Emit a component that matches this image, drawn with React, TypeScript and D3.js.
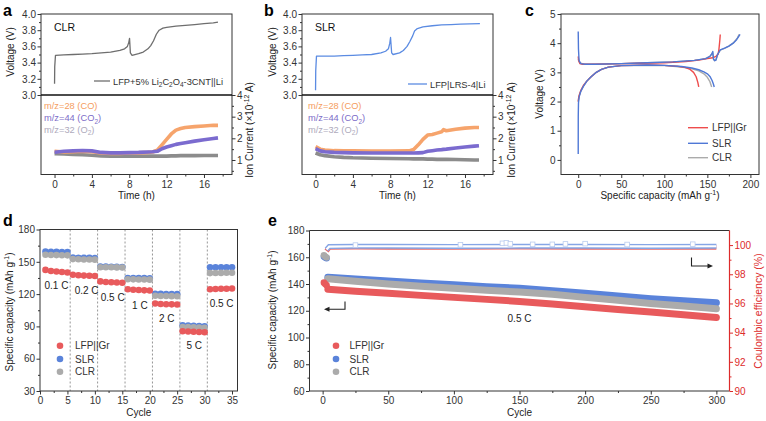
import React, { useEffect, useRef } from 'react';
import * as d3 from 'd3';

const FONT = 'Liberation Sans, Arial, Helvetica, sans-serif';

// ---------- Panel a (CLR) ----------
const aVoltTime = [0, 0.02, 0.1, 1, 2, 3, 4, 5, 6, 7, 7.5, 7.8, 7.95, 8.03, 8.12, 8.3, 9, 9.5, 10, 10.3, 10.6, 10.9, 11.2, 11.6, 12, 13, 14, 15, 16, 17, 17.5];
const aVolt = [3.14, 3.35, 3.49, 3.495, 3.5, 3.505, 3.51, 3.52, 3.53, 3.55, 3.57, 3.6, 3.65, 3.7, 3.52, 3.49, 3.51, 3.53, 3.57, 3.61, 3.67, 3.75, 3.8, 3.825, 3.835, 3.85, 3.86, 3.87, 3.88, 3.89, 3.9];
const aIonTime = [0, 1, 2, 3, 4, 5, 6, 7, 8, 9, 10, 10.5, 11, 11.5, 12, 12.5, 13, 13.5, 14, 15, 16, 17, 17.5];
const aCO = [1.4, 1.37, 1.38, 1.4, 1.38, 1.32, 1.3, 1.3, 1.32, 1.33, 1.35, 1.37, 1.45, 1.7, 1.95, 2.2, 2.38, 2.45, 2.5, 2.54, 2.57, 2.6, 2.6];
const aCO2 = [1.36, 1.4, 1.42, 1.44, 1.42, 1.35, 1.33, 1.33, 1.34, 1.35, 1.37, 1.38, 1.4, 1.52, 1.6, 1.66, 1.72, 1.76, 1.8, 1.87, 1.93, 1.99, 2.02];
const aO2 = [1.29, 1.28, 1.26, 1.24, 1.22, 1.19, 1.18, 1.18, 1.18, 1.18, 1.18, 1.18, 1.18, 1.18, 1.18, 1.19, 1.19, 1.2, 1.2, 1.2, 1.21, 1.21, 1.21];

// ---------- Panel b (SLR) ----------
const bVoltTime = [0, 0.02, 0.1, 1, 2, 3, 4, 5, 6, 7, 7.5, 7.8, 7.95, 8.03, 8.15, 8.3, 9, 9.4, 9.8, 10.1, 10.4, 10.6, 10.9, 11.5, 12.5, 13.5, 14.5, 15.5, 16.5, 17.6];
const bVolt = [3.06, 3.3, 3.48, 3.48, 3.48, 3.485, 3.49, 3.495, 3.5, 3.52, 3.54, 3.57, 3.64, 3.71, 3.52, 3.5, 3.52, 3.55, 3.6, 3.66, 3.73, 3.79, 3.82, 3.84, 3.855, 3.865, 3.87, 3.875, 3.878, 3.88];
const bIonTime = [0, 0.5, 1, 2, 3, 4, 6, 8, 10, 10.5, 11, 11.5, 12, 12.5, 13, 13.5, 13.7, 14, 15, 16, 17, 17.5];
const bCO = [1.62, 1.5, 1.46, 1.43, 1.42, 1.42, 1.41, 1.41, 1.42, 1.48, 1.7, 1.95, 2.15, 2.18, 2.24, 2.3, 2.4, 2.35, 2.42, 2.47, 2.5, 2.5];
const bCO2 = [1.52, 1.42, 1.38, 1.35, 1.34, 1.33, 1.32, 1.32, 1.32, 1.32, 1.33, 1.34, 1.4, 1.43, 1.46, 1.48, 1.49, 1.5, 1.55, 1.6, 1.64, 1.66];
const bO2 = [1.32, 1.24, 1.2, 1.15, 1.12, 1.1, 1.08, 1.07, 1.06, 1.05, 1.05, 1.05, 1.04, 1.04, 1.03, 1.03, 1.03, 1.03, 1.02, 1.01, 1.0, 1.0];

// ---------- Panel c ----------
const cRedChgCap = [0, 0.5, 2, 5, 15, 40, 70, 100, 125, 140, 150, 156, 160, 162.5, 163.5, 164.5, 165];
const cRedChgV = [3.55, 3.4, 3.3, 3.28, 3.28, 3.29, 3.31, 3.33, 3.37, 3.42, 3.47, 3.5, 3.55, 3.62, 3.8, 4.1, 4.3];
const cRedDisCap = [0, 0.3, 1, 3, 6, 10, 15, 20, 27, 35, 50, 80, 100, 115, 124, 130, 134, 137, 139, 140];
const cRedDisV = [2.0, 2.08, 2.2, 2.38, 2.55, 2.7, 2.85, 2.98, 3.1, 3.18, 3.23, 3.25, 3.24, 3.21, 3.17, 3.1, 3.0, 2.85, 2.65, 2.5];
const cBlueChgCap = [0, 0.3, 1, 3, 8, 20, 50, 80, 110, 135, 148, 153, 155.5, 156.3, 157.2, 158.5, 160, 162, 165, 170, 175, 180, 184, 188];
const cBlueChgV = [4.4, 3.8, 3.4, 3.3, 3.28, 3.28, 3.3, 3.33, 3.36, 3.41, 3.47, 3.55, 3.65, 3.72, 3.45, 3.4, 3.42, 3.62, 3.77, 3.83, 3.9, 4.0, 4.12, 4.3];
const cBlueDisCap = [0, 0.05, 0.3, 1, 3, 6, 10, 15, 20, 27, 35, 50, 80, 100, 120, 132, 140, 146, 150, 153, 155.5, 157, 158];
const cBlueDisV = [0.2, 1.5, 1.95, 2.15, 2.35, 2.52, 2.7, 2.85, 2.98, 3.1, 3.18, 3.23, 3.25, 3.24, 3.2, 3.15, 3.09, 3.02, 2.95, 2.86, 2.72, 2.6, 2.5];
const cGreyChgCap = [0, 2, 6, 20, 50, 80, 110, 135, 148, 153, 155, 156, 157.2, 158.5, 160, 162, 165, 170, 175, 180, 185, 187];
const cGreyChgV = [3.45, 3.32, 3.29, 3.28, 3.3, 3.33, 3.36, 3.41, 3.47, 3.55, 3.62, 3.68, 3.45, 3.4, 3.43, 3.62, 3.76, 3.82, 3.9, 4.0, 4.18, 4.3];
const cGreyDisCap = [0, 0.3, 1, 3, 6, 10, 15, 20, 27, 35, 50, 80, 100, 120, 132, 140, 146, 150, 153, 155];
const cGreyDisV = [2.0, 2.05, 2.18, 2.36, 2.53, 2.7, 2.85, 2.98, 3.1, 3.18, 3.23, 3.24, 3.23, 3.18, 3.12, 3.05, 2.95, 2.83, 2.68, 2.5];

// ---------- Panel d (rate) ----------
const dCycles = d3.range(1, 36);
const dLFP = [142.5, 141.5, 141, 140.5, 140, 138, 137.5, 137.2, 137, 136.8, 131.8, 131.3, 131, 130.8, 130.5, 124.5, 124, 123.8, 123.5, 123.3, 111.2, 110.8, 110.6, 110.5, 110.3, 85.5, 85.2, 85, 84.8, 84.5, 124.5, 124.7, 124.9, 125, 125.2];
const dSLR = [159.5, 159.3, 159.2, 159, 159, 154, 153.8, 153.7, 153.6, 153.5, 145.5, 145.5, 145.4, 145.3, 145.2, 135, 135, 134.9, 134.8, 134.7, 120.3, 120.2, 120.1, 120, 120, 91, 90.8, 90.6, 90.4, 90.2, 145, 145, 145, 145, 145];
const dCLR = [156.5, 156.3, 156.2, 156.1, 156, 152.5, 152.3, 152.2, 152.1, 152, 145, 145, 144.9, 144.8, 144.7, 133.8, 133.7, 133.6, 133.5, 133.4, 118.5, 118.3, 118.2, 118.1, 118, 89.5, 89.3, 89.1, 89, 88.8, 139.5, 139.6, 139.7, 139.8, 139.8];
const dRates = ['0.1 C', '0.2 C', '0.5 C', '1 C', '2 C', '5 C', '0.5 C'];
const dRateLabelCycle = [3.0, 8.5, 13.25, 18.2, 23.1, 28.1, 33.1];
const dRateLabelCap = [128.4, 123, 117, 109.6, 97.8, 72.4, 111.4];
const dSeparators = [5.5, 10.5, 15.5, 20.5, 25.5, 30.5];

// ---------- Panel e (long cycling) ----------
const eFirstCycles = [1, 2, 3];
const eFirstLFP = [141, 140, 139];
const eFirstSLR = [160.5, 159.8, 159.2];
const eFirstCLR = [161.5, 160.5, 159.8];
const eCycles = [4, 25, 50, 75, 100, 125, 150, 175, 200, 225, 250, 275, 300];
const eLFP = [136, 134.5, 133, 131.5, 130, 128.5, 127, 125, 123, 121, 119, 117, 115];
const eSLR = [145, 143.8, 142.3, 140.8, 139.5, 138, 136.8, 135, 133, 131, 129, 127.5, 126];
const eCLR = [144, 142, 140, 138.3, 136.8, 135.3, 134, 132.3, 130, 127.8, 125.5, 123.5, 121.5];
const eCECycles = [3, 5, 25, 50, 100, 150, 200, 250, 300];
const eCE_SLR = [99.7, 99.9, 99.92, 99.92, 99.91, 99.92, 99.92, 99.91, 99.92];
const eCE_LFP = [99.6, 99.85, 99.87, 99.86, 99.86, 99.87, 99.86, 99.86, 99.86];
const eCEOutCycles = [25, 105, 137, 140, 143, 160, 175, 185, 200, 232, 282];
const eCEOutVals = [100.0, 100.02, 100.12, 100.15, 100.08, 100.05, 100.05, 100.08, 100.1, 100.04, 100.06];

const C_RED = '#e85a5c';
const C_BLUE = '#5a83da';
const C_GREY = '#ababab';

function richText(g: any, x: number, y: number, parts: any[], size: number, fill: string, anchor = 'start', rotate = false) {
  const t = g.append('text')
    .attr('font-family', FONT).attr('font-size', size).attr('fill', fill).attr('text-anchor', anchor);
  if (rotate) t.attr('transform', `translate(${x},${y}) rotate(-90)`);
  else t.attr('x', x).attr('y', y);
  let cur = 0;
  parts.forEach((p: any) => {
    const want = p.sub ? size * 0.28 : p.sup ? -size * 0.4 : 0;
    const ts = t.append('tspan').text(p.t).attr('dy', want - cur);
    if (p.sub || p.sup) ts.attr('font-size', size * 0.7);
    cur = want;
  });
  return t;
}

function addAxis(g: any, axisFn: any, scale: any, majors: number[], minors: number[], fmt: any, tx: number, ty: number, color = '#333', pad = 2.5) {
  const a = g.append('g').attr('transform', `translate(${tx},${ty})`);
  a.call(axisFn(scale).tickValues(majors).tickSize(3.5).tickSizeOuter(0).tickPadding(pad).tickFormat(fmt));
  a.select('.domain').remove();
  a.selectAll('line').attr('stroke', color);
  a.selectAll('text').attr('fill', color).attr('font-family', FONT).attr('font-size', 10);
  if (minors.length) {
    const m = g.append('g').attr('transform', `translate(${tx},${ty})`);
    m.call(axisFn(scale).tickValues(minors).tickSize(2).tickSizeOuter(0).tickFormat(() => ''));
    m.select('.domain').remove();
    m.selectAll('line').attr('stroke', color);
  }
}

function frame(g: any, x0: number, y0: number, x1: number, y1: number) {
  g.append('rect').attr('x', x0).attr('y', y0).attr('width', x1 - x0).attr('height', y1 - y0)
    .attr('fill', 'none').attr('stroke', '#333').attr('stroke-width', 1);
}

function plain(g: any, x: number, y: number, s: string, size = 10, fill = '#222', anchor = 'start', weight = 'normal') {
  return g.append('text').attr('x', x).attr('y', y).attr('font-family', FONT).attr('font-size', size)
    .attr('fill', fill).attr('text-anchor', anchor).attr('font-weight', weight).text(s);
}

function drawGas(svg: any, x0: number, x1: number, letter: string, letterX: number, tag: string,
  vt: number[], vv: number[], vColor: string, legendParts: any[], legLine: number[], legText: number[],
  it: number[], co: number[], co2: number[], o2: number[], gasLabelX: number, gasLabelY: number[],
  ionLabelX: number, voltTitleX: number) {
  const g = svg.append('g');
  const x = d3.scaleLinear().domain([-1.45, 19.0]).range([x0, x1]);
  const yV = d3.scaleLinear().domain([3, 4]).range([95, 14]);
  const yI = d3.scaleLinear().domain([0.33, 4]).range([174.5, 95]);

  const lineI = (vals: number[]) => d3.line<number>().x((_, i) => x(it[i])).y((d) => yI(d))(vals);
  g.append('path').attr('d', lineI(o2)).attr('fill', 'none').attr('stroke', '#8c8c8c').attr('stroke-width', 3.6).attr('stroke-linejoin', 'round');
  g.append('path').attr('d', lineI(co)).attr('fill', 'none').attr('stroke', '#f6a46c').attr('stroke-width', 3.6).attr('stroke-linejoin', 'round');
  g.append('path').attr('d', lineI(co2)).attr('fill', 'none').attr('stroke', '#7b6bcf').attr('stroke-width', 3.6).attr('stroke-linejoin', 'round');

  const lineV = d3.line<number>().x((_, i) => x(vt[i])).y((d) => yV(d));
  g.append('path').attr('d', lineV(vv)).attr('fill', 'none').attr('stroke', vColor).attr('stroke-width', 1.3).attr('stroke-linejoin', 'round');

  frame(g, x0, 14, x1, 174.5);
  g.append('line').attr('x1', x0).attr('x2', x1).attr('y1', 95).attr('y2', 95).attr('stroke', '#111').attr('stroke-width', 1.3);

  addAxis(g, d3.axisBottom, x, [0, 4, 8, 12, 16], [2, 6, 10, 14, 18], d3.format('d'), 0, 174.5);
  addAxis(g, d3.axisLeft, yV, [3.0, 3.2, 3.4, 3.6, 3.8, 4.0], [3.1, 3.3, 3.5, 3.7, 3.9], d3.format('.1f'), x0, 0, '#333', 1.5);
  addAxis(g, d3.axisRight, yI, [1, 2, 3, 4], [0.5, 1.5, 2.5, 3.5], d3.format('d'), x1, 0, '#333', 1.5);

  plain(g, (x0 + x1) / 2, 199, 'Time (h)', 10, '#222', 'middle');
  g.append('text').attr('transform', `translate(${voltTitleX},52) rotate(-90)`).attr('font-family', FONT).attr('font-size', 10)
    .attr('fill', '#222').attr('text-anchor', 'middle').text('Voltage (V)');
  richText(g, ionLabelX, 130, [{ t: 'Ion Current (×10' }, { t: '-12', sup: true }, { t: ' A)' }], 10, '#222', 'middle', true);

  plain(g, letterX, 16, letter, 16, '#000', 'start', 'bold');
  plain(g, x0 + 13, 31, tag, 10.5, '#111');

  g.append('line').attr('x1', legLine[0]).attr('x2', legLine[1]).attr('y1', legLine[2]).attr('y2', legLine[2]).attr('stroke', vColor).attr('stroke-width', 1.3);
  richText(g, legText[0], legText[1], legendParts, 9.3, '#333');

  richText(g, gasLabelX, gasLabelY[0], [{ t: 'm/z=28 (CO)' }], 9.3, '#f59d5e');
  richText(g, gasLabelX, gasLabelY[1], [{ t: 'm/z=44 (CO' }, { t: '2', sub: true }, { t: ')' }], 9.3, '#7c6cc8');
  richText(g, gasLabelX, gasLabelY[2], [{ t: 'm/z=32 (O' }, { t: '2', sub: true }, { t: ')' }], 9.3, '#aeaabc');
}

function draw(svg: any) {
  svg.append('rect').attr('width', 766).attr('height', 421).attr('fill', '#fff');

  drawGas(svg, 41, 232, 'a', 3, 'CLR', aVoltTime, aVolt, '#6e6e6e',
    [{ t: 'LFP+5% Li' }, { t: '2', sub: true }, { t: 'C' }, { t: '2', sub: true }, { t: 'O' }, { t: '4', sub: true }, { t: '-3CNT||Li' }],
    [94, 110, 81], [113, 84.5], aIonTime, aCO, aCO2, aO2, 44, [109, 121, 132.5], 253, 14);

  drawGas(svg, 302, 493, 'b', 264, 'SLR', bVoltTime, bVolt, '#5b8be2',
    [{ t: 'LFP|LRS-4|Li' }], [408, 427, 84], [430, 87.5], bIonTime, bCO, bCO2, bO2, 308, [109, 121, 132.5], 515, 276);

  // ----- c -----
  {
    const g = svg.append('g');
    const x0 = 561, x1 = 759;
    const x = d3.scaleLinear().domain([-20, 210]).range([x0, x1]);
    const y = d3.scaleLinear().domain([-0.5, 5]).range([174.5, 14]);
    const ln = (cap: number[], v: number[]) => d3.line<number>().x((d) => x(d)).y((_, i) => y(v[i]))(cap);
    const series = [
      { c: C_GREY, paths: [[cGreyChgCap, cGreyChgV], [cGreyDisCap, cGreyDisV]] },
      { c: '#ee4c4c', paths: [[cRedChgCap, cRedChgV], [cRedDisCap, cRedDisV]] },
      { c: '#4f78d6', paths: [[cBlueChgCap, cBlueChgV], [cBlueDisCap, cBlueDisV]] },
    ];
    series.forEach((s) => s.paths.forEach((p: any) => {
      g.append('path').attr('d', ln(p[0], p[1])).attr('fill', 'none').attr('stroke', s.c).attr('stroke-width', 1.4).attr('stroke-linejoin', 'round');
    }));
    frame(g, x0, 14, x1, 174.5);
    addAxis(g, d3.axisBottom, x, [0, 50, 100, 150, 200], [25, 75, 125, 175], d3.format('d'), 0, 174.5);
    addAxis(g, d3.axisLeft, y, [0, 1, 2, 3, 4, 5], [0.5, 1.5, 2.5, 3.5, 4.5], d3.format('d'), x0, 0, '#333', 2);
    plain(g, 525, 16, 'c', 16, '#000', 'start', 'bold');
    g.append('text').attr('transform', 'translate(543,94) rotate(-90)').attr('font-family', FONT).attr('font-size', 10)
      .attr('fill', '#222').attr('text-anchor', 'middle').text('Voltage (V)');
    richText(g, (x0 + x1) / 2, 199, [{ t: 'Specific capacity (mAh g' }, { t: '-1', sup: true }, { t: ')' }], 10, '#222', 'middle');
    const leg = [['LFP||Gr', '#ee4c4c', 127.7], ['SLR', '#4f78d6', 143.3], ['CLR', C_GREY, 157.7]];
    leg.forEach((l: any) => {
      g.append('line').attr('x1', 688).attr('x2', 708).attr('y1', l[2]).attr('y2', l[2]).attr('stroke', l[1]).attr('stroke-width', 1.4);
      plain(g, 712, l[2] + 3.6, l[0], 10, '#333');
    });
  }

  // ----- d -----
  {
    const g = svg.append('g');
    const x0 = 40, x1 = 237.5, y0 = 229.5, y1 = 391;
    const x = d3.scaleLinear().domain([0, 36]).range([x0, x1]);
    const y = d3.scaleLinear().domain([30, 180]).range([y1, y0]);
    dSeparators.forEach((c) => {
      g.append('line').attr('x1', x(c)).attr('x2', x(c)).attr('y1', y0).attr('y2', y1)
        .attr('stroke', '#8a8a8a').attr('stroke-width', 0.9).attr('stroke-dasharray', '2,2');
    });
    const dots = (vals: number[], col: string) => vals.forEach((v, i) => {
      g.append('circle').attr('cx', x(dCycles[i])).attr('cy', y(v)).attr('r', 3.3).attr('fill', col);
    });
    dots(dSLR, C_BLUE);
    dots(dCLR, C_GREY);
    dots(dLFP, C_RED);
    dRates.forEach((r, i) => plain(g, x(dRateLabelCycle[i]), y(dRateLabelCap[i]) + 3.6, r, 10, '#222', 'middle'));
    frame(g, x0, y0, x1, y1);
    addAxis(g, d3.axisBottom, x, [0, 5, 10, 15, 20, 25, 30, 35], [2.5, 7.5, 12.5, 17.5, 22.5, 27.5, 32.5], d3.format('d'), 0, y1);
    addAxis(g, d3.axisLeft, y, [30, 60, 90, 120, 150, 180], [45, 75, 105, 135, 165], d3.format('d'), x0, 0, '#333', 1.5);
    plain(g, 3, 226, 'd', 16, '#000', 'start', 'bold');
    plain(g, (x0 + x1) / 2, 416, 'Cycle', 10, '#222', 'middle');
    richText(g, 13, 312, [{ t: 'Specific capacity (mAh g' }, { t: '-1', sup: true }, { t: ')' }], 10, '#222', 'middle', true);
    const leg = [['LFP||Gr', C_RED, 345.7], ['SLR', C_BLUE, 359], ['CLR', C_GREY, 371.7]];
    leg.forEach((l: any) => {
      g.append('circle').attr('cx', 60).attr('cy', l[2]).attr('r', 3.3).attr('fill', l[1]);
      plain(g, 75, l[2] + 3.6, l[0], 10, '#333');
    });
  }

  // ----- e -----
  {
    const g = svg.append('g');
    const x0 = 309.5, x1 = 729.5, y0 = 230.5, y1 = 391;
    const RED_AX = '#dd2b2b';
    const x = d3.scaleLinear().domain([-10, 310]).range([x0, x1]);
    const y = d3.scaleLinear().domain([60, 180]).range([y1, y0]);
    const yR = d3.scaleLinear().domain([90, 101]).range([y1, y0]);

    const ceLine = (vals: number[]) => d3.line<number>().x((_, i) => x(eCECycles[i])).y((d) => yR(d))(vals);
    g.append('path').attr('d', ceLine(eCE_LFP)).attr('fill', 'none').attr('stroke', '#e86a6a').attr('stroke-width', 5);
    g.append('path').attr('d', ceLine(eCE_SLR)).attr('fill', 'none').attr('stroke', '#86a6e6').attr('stroke-width', 5);
    g.append('path').attr('d', ceLine(eCE_SLR)).attr('fill', 'none').attr('stroke', '#ffffff').attr('stroke-width', 2.2);
    eCEOutCycles.forEach((c, i) => {
      g.append('rect').attr('x', x(c) - 2.3).attr('y', yR(eCEOutVals[i]) - 2.3).attr('width', 4.6).attr('height', 4.6)
        .attr('fill', '#fff').attr('stroke', '#b9cbee').attr('stroke-width', 0.8);
    });

    const band = (vals: number[], col: string) => {
      g.append('path').attr('d', d3.line<number>().x((_, i) => x(eCycles[i])).y((d) => y(d))(vals))
        .attr('fill', 'none').attr('stroke', col).attr('stroke-width', 7).attr('stroke-linecap', 'round').attr('stroke-linejoin', 'round');
    };
    band(eSLR, C_BLUE);
    band(eCLR, C_GREY);
    band(eLFP, C_RED);
    const first = (vals: number[], col: string) => vals.forEach((v, i) => {
      g.append('circle').attr('cx', x(eFirstCycles[i])).attr('cy', y(v)).attr('r', 3.3).attr('fill', col);
    });
    first(eFirstSLR, C_BLUE);
    first(eFirstCLR, C_GREY);
    first(eFirstLFP, C_RED);

    g.append('line').attr('x1', x0).attr('x2', x1).attr('y1', y0).attr('y2', y0).attr('stroke', '#333');
    g.append('line').attr('x1', x0).attr('x2', x1).attr('y1', y1).attr('y2', y1).attr('stroke', '#333');
    g.append('line').attr('x1', x0).attr('x2', x0).attr('y1', y0).attr('y2', y1).attr('stroke', '#333');
    g.append('line').attr('x1', x1).attr('x2', x1).attr('y1', y0).attr('y2', y1).attr('stroke', RED_AX).attr('stroke-width', 1.2);

    addAxis(g, d3.axisBottom, x, [0, 50, 100, 150, 200, 250, 300], [25, 75, 125, 175, 225, 275], d3.format('d'), 0, y1);
    addAxis(g, d3.axisLeft, y, [60, 80, 100, 120, 140, 160, 180], [70, 90, 110, 130, 150, 170], d3.format('d'), x0, 0, '#333', 1.5);
    addAxis(g, d3.axisRight, yR, [90, 92, 94, 96, 98, 100], [91, 93, 95, 97, 99], d3.format('d'), x1, 0, RED_AX, 1.5);

    plain(g, 268, 226, 'e', 16, '#000', 'start', 'bold');
    plain(g, (x0 + x1) / 2, 416, 'Cycle', 10, '#222', 'middle');
    richText(g, 276, 310, [{ t: 'Specific capacity (mAh g' }, { t: '-1', sup: true }, { t: ')' }], 10, '#222', 'middle', true);
    g.append('text').attr('transform', 'translate(762,311) rotate(-90)').attr('font-family', FONT).attr('font-size', 10.5)
      .attr('fill', RED_AX).attr('text-anchor', 'middle').text('Coulombic efficiency (%)');
    plain(g, x(150), 322, '0.5 C', 10, '#222', 'middle');

    g.append('path').attr('d', 'M345,301.5 L345,309.3 L328,309.3').attr('fill', 'none').attr('stroke', '#222').attr('stroke-width', 1.1);
    g.append('path').attr('d', 'M324,309.3 L329.5,306.8 L329.5,311.8 Z').attr('fill', '#222');
    g.append('path').attr('d', 'M691.5,257.5 L691.5,266 L709,266').attr('fill', 'none').attr('stroke', '#222').attr('stroke-width', 1.1);
    g.append('path').attr('d', 'M713,266 L707.5,263.5 L707.5,268.5 Z').attr('fill', '#222');

    const leg = [['LFP||Gr', C_RED, 345.7], ['SLR', C_BLUE, 359], ['CLR', C_GREY, 371.7]];
    leg.forEach((l: any) => {
      g.append('circle').attr('cx', 336).attr('cy', l[2]).attr('r', 3.3).attr('fill', l[1]);
      plain(g, 349.5, l[2] + 3.6, l[0], 10, '#333');
    });
  }
}

export default function App() {
  const ref = useRef<SVGSVGElement>(null);
  useEffect(() => {
    const svg = d3.select(ref.current);
    svg.selectAll('*').remove();
    draw(svg);
  }, []);
  return (
    <svg ref={ref} width={766} height={421} style={{ position: 'absolute', left: 0, top: 0, background: '#fff' }} />
  );
}
